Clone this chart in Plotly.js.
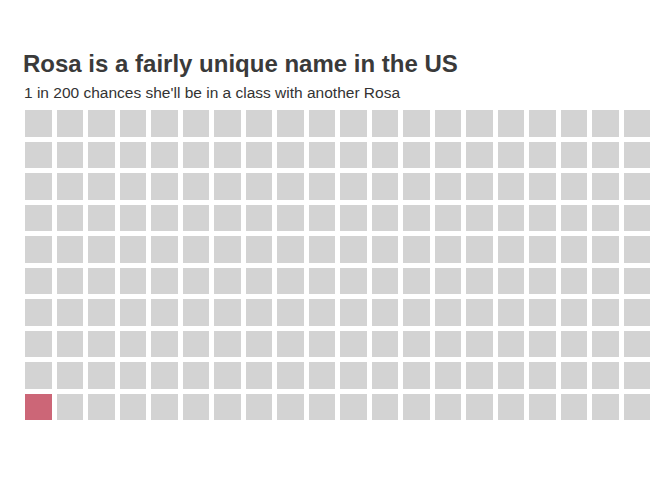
<!DOCTYPE html>
<html>
<head>
<meta charset="utf-8">
<script src="https://cdn.plot.ly/plotly-3.0.1.min.js"></script>
<style>
  html, body { margin: 0; padding: 0; background: #fff; }
  #chart { width: 672px; height: 480px; }
</style>
</head>
<body>
<div id="chart"></div>
<script>
// ======================= DATA =======================
const titleText = 'Rosa is a fairly unique name in the US';
const subtitleText = "1 in 200 chances she'll be in a class with another Rosa";
const nRows = 10;
const nCols = 20;
const totalCount = 200;
const rosaCount = 1;

// ======================= GRID =======================
// fill column by column, starting bottom-left
const z = [];
for (let r = 0; r < nRows; r++) z.push(Array(nCols).fill(0));
for (let i = 0; i < totalCount; i++) {
  const col = Math.floor(i / nRows);
  const row = i % nRows;
  z[row][col] = i < rosaCount ? 1 : 0;
}

const grey = '#d3d3d3';
const rose = '#cc6677';

const trace = {
  type: 'heatmap',
  z: z,
  x: [...Array(nCols).keys()],
  y: [...Array(nRows).keys()],
  zmin: 0, zmax: 1,
  colorscale: [[0, grey], [0.5, grey], [0.5, rose], [1, rose]],
  showscale: false,
  xgap: 5, ygap: 5,
  hoverinfo: 'skip'
};

const layout = {
  width: 672, height: 480,
  paper_bgcolor: '#fff', plot_bgcolor: '#fff',
  margin: { l: 23, r: 19, t: 108, b: 57 },
  font: { family: '"Liberation Sans", Arial, sans-serif', color: '#333' },
  title: {
    text: '<b>' + titleText + '</b>',
    font: { size: 24, color: '#3a3a3a' },
    x: 23 / 672, xanchor: 'left', xref: 'container',
    y: 1 - 64 / 480, yanchor: 'middle', yref: 'container'
  },
  annotations: [{
    text: subtitleText,
    xref: 'paper', yref: 'paper', x: 0, y: 1,
    xanchor: 'left', yanchor: 'middle',
    xshift: -1, yshift: 16,
    showarrow: false,
    font: { size: 15.5, color: '#333' }
  }],
  xaxis: { visible: false, range: [-0.5, nCols - 0.5], fixedrange: true },
  yaxis: { visible: false, range: [-0.5, nRows - 0.5], fixedrange: true },
  showlegend: false
};

Plotly.newPlot('chart', [trace], layout, { displayModeBar: false, staticPlot: true });
</script>
</body>
</html>
